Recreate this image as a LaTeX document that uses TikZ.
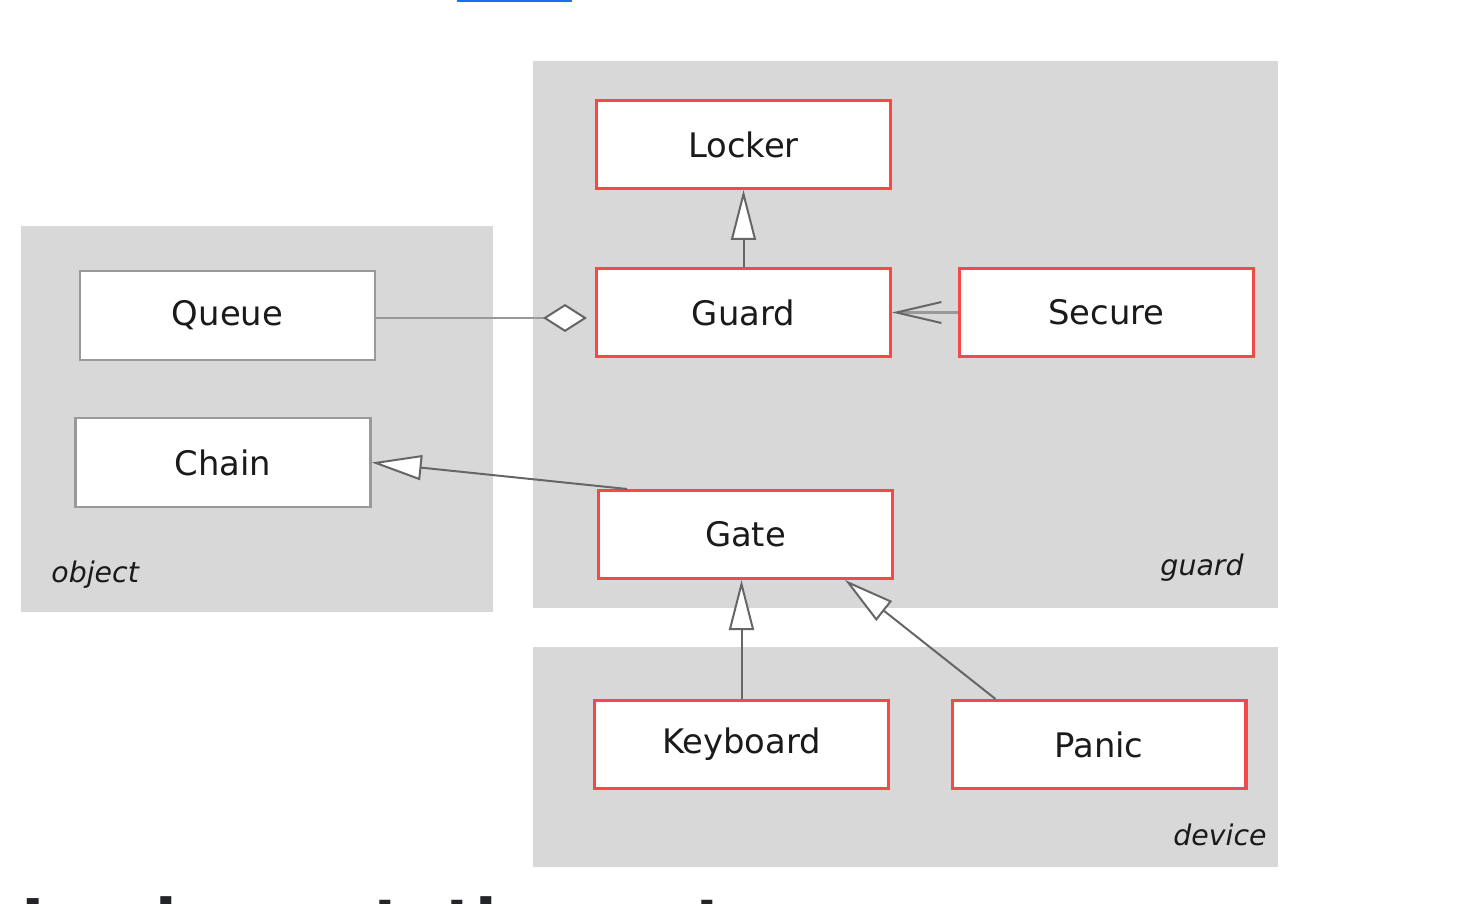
\documentclass[tikz,border=0pt]{standalone}
\usepackage{fontspec}
\setmainfont{DejaVu Sans}[ItalicFont={DejaVu Sans Oblique},BoldFont={DejaVu Sans Bold}]
\usetikzlibrary{arrows.meta,calc}
\definecolor{regiongray}{HTML}{D8D8D8}
\definecolor{boxred}{HTML}{F54848}
\definecolor{boxgray}{HTML}{999999}
\definecolor{linegray}{HTML}{666666}
\definecolor{lightline}{HTML}{999999}
\definecolor{linkblue}{HTML}{1670F0}
\definecolor{headdark}{HTML}{222428}
\definecolor{textdark}{HTML}{1A1A1A}
\begin{document}
\begin{tikzpicture}[x=0.5pt,y=-0.5pt,
  region/.style={fill=regiongray,draw=none},
  cls/.style={draw=boxred,line width=1.7pt,fill=white,minimum width=146.8pt,minimum height=43.8pt,inner sep=0pt,text=textdark,font=\fontsize{16.9pt}{20pt}\selectfont},
  objcls/.style={cls,draw=boxgray,line width=1.2pt,minimum width=147.5pt,minimum height=44.5pt},
  pkglabel/.style={font=\fontsize{14.2pt}{17pt}\selectfont\itshape,inner sep=0pt,text=textdark},
  inherit/.style={draw=linegray,line width=1pt,-{Triangle[length=25pt,width=12.5pt,fill=white]}},
  aggr/.style={draw=lightline,line width=1.3pt,shorten >=4pt,-{Diamond[length=22pt,width=14pt,fill=white,color=linegray,line width=1pt]}},
  depend/.style={draw=lightline,line width=1.3pt,-{Straight Barb[length=22.5pt,width=10.5pt,color=linegray,line width=1pt]}}
]
\useasboundingbox (0,0) rectangle (1480,904);
\clip (0,0) rectangle (1480,904);
% regions
\fill[region] (21,226) rectangle (493,612);
\fill[region] (533,61) rectangle (1278,608);
\fill[region] (533,647) rectangle (1278,867);
\node[pkglabel,anchor=base west] (objlbl) at (51,582) {object};
\node[pkglabel,anchor=base east] (guardlbl) at (1244,575) {guard};
\node[pkglabel,anchor=base east] (devlbl) at (1267,845) {device};
% classes
\node[cls] (Locker) at (743.5,144.5) {Locker};
\node[cls] (Guard) at (743.5,312.5) {Guard};
\node[cls] (Secure) at (1106.5,312.5) {Secure};
\node[objcls] (Queue) at (227.5,315.5) {Queue};
\node[objcls] (Chain) at (223,462.5) {Chain};
\node[cls] (Gate) at (745.5,534.5) {Gate};
\node[cls] (Keyboard) at (741.5,744.5) {Keyboard};
\node[cls] (Panic) at (1099,744.5) {Panic};
% connectors
\draw[inherit] (Guard.north) -- (Locker.south);
\draw[aggr] ($(Queue.east)+(0,2.5)$) -- ($(Queue.east -| Guard.west)+(0,2.5)$);
\draw[depend] (Secure.west) -- (Secure.west -| Guard.east);
\draw[inherit] ($(Gate.north west)+(30,0)$) -- (Chain.east);
\draw[inherit] (Keyboard.north) -- (Keyboard.north |- Gate.south);
\draw[inherit] ($(Panic.north west)+(45,0)$) -- ($(Gate.south east)+(-49,0)$);
% page fragments
\fill[linkblue] (457,-2) rectangle (572,2);
\node[anchor=base west,inner sep=0pt,font=\fontsize{31.5pt}{36pt}\selectfont\bfseries,text=headdark] (heading) at (21,944) {Implementation notes};
\end{tikzpicture}
\end{document}
